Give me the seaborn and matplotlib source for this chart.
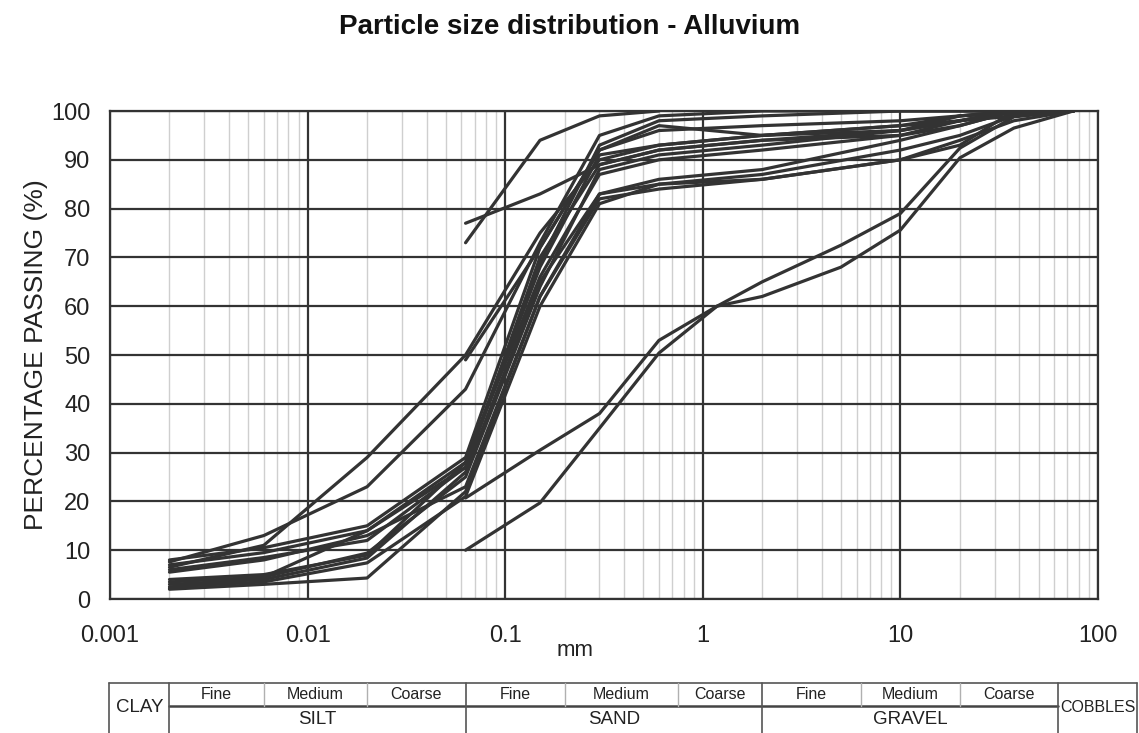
import numpy as np
import pandas as pd
import matplotlib
matplotlib.use("Agg")
import matplotlib.pyplot as plt
import matplotlib.transforms as mtransforms
from matplotlib.ticker import LogLocator, NullFormatter
import seaborn as sns

# ---------------- data ----------------
sieve_full = [0.002, 0.006, 0.02, 0.063, 0.15, 0.3, 0.6, 2, 10, 20, 37.5, 75]
s01 = [2.0, 3.0, 4.3, 22, 62, 82, 84, 86, 90, 93, 100, 100]
s02 = [2.5, 3.5, 7.4, 21, 60, 81, 85, 87, 92, 95, 99, 100]
s03 = [3.0, 4.0, 8.4, 26, 65, 83, 86, 88, 94, 97, 100, 100]
s04 = [3.5, 4.5, 9.4, 25, 64, 88, 91, 93, 96, 98, 100, 100]
s05 = [4.0, 5.0, 9.0, 28, 68, 91, 93, 95, 97, 99, 100, 100]
s06 = [2.2, 4.5, 14, 27, 70, 89, 92, 94, 95, 97, 100, 100]
s07 = [8.0, 10.5, 15, 29, 72, 92, 97, 95, 96, 99, 100, 100]
s08 = [7.0, 9.5, 14, 28, 66, 87, 90, 92, 95, 98, 100, 100]
s09 = [6.0, 8.5, 12, 27, 69, 93, 98, 99, 100, 100, 100, 100]
s10 = [7.6, 13, 23, 43, 73, 95, 99, 100, 100, 100, 100, 100]
s11 = [6.5, 11, 29, 50, 75, 90, 93, 95, 97, 98, 100, 100]
s12 = [5.5, 8.0, 13, 23, 62, 83, 85, 86, 90, 94, 98, 100]

sieve_s13 = [0.063, 0.15, 0.3, 0.6]
s13 = [73, 94, 99, 100]
sieve_s14 = [0.063, 0.15, 0.3, 0.6, 2, 10, 20, 75]
s14 = [77, 83, 89, 92, 94, 96, 98, 100]
sieve_s15 = [0.063, 0.15, 0.3, 0.6, 2, 10, 20, 75]
s15 = [49, 72, 92, 96, 97, 98, 99, 100]
sieve_coarse = [0.063, 0.15, 0.3, 0.6, 1.18, 2, 5, 10, 20, 37.5, 75]
s16 = [20.7, 30.5, 38, 53, 60, 65, 72.5, 79, 92.4, 98.8, 100]
s17 = [10, 19.7, 35, 50.4, 60, 62, 68, 75.6, 90.4, 96.5, 100]

x_ticks = [0.001, 0.01, 0.1, 1, 10, 100]
x_tick_labels = ["0.001", "0.01", "0.1", "1", "10", "100"]
y_ticks = list(range(0, 101, 10))

# classification table (BS 5930 style), boundaries as drawn in the picture
class_edges = [0.00099, 0.002, 0.006, 0.02, 0.063, 0.2, 0.75, 2, 6.3, 20, 63, 157]
sub_labels = ["Fine", "Medium", "Coarse"] * 3
main_labels = ["SILT", "SAND", "GRAVEL"]

samples = [
    (sieve_full, s01), (sieve_full, s02), (sieve_full, s03), (sieve_full, s04),
    (sieve_full, s05), (sieve_full, s06), (sieve_full, s07), (sieve_full, s08),
    (sieve_full, s09), (sieve_full, s10), (sieve_full, s11), (sieve_full, s12),
    (sieve_s13, s13), (sieve_s14, s14), (sieve_s15, s15),
    (sieve_coarse, s16), (sieve_coarse, s17),
]
rows = []
for i, (xs, ys) in enumerate(samples):
    for order, (xv, yv) in enumerate(zip(xs, ys)):
        rows.append({"sample": i, "order": order, "size": xv, "passing": yv})
df = pd.DataFrame(rows)

# ---------------- style ----------------
sns.set_theme(style="white")
plt.rcParams["font.family"] = ["Liberation Sans", "DejaVu Sans"]

W, H = 1139, 733
fig = plt.figure(figsize=(W / 100, H / 100), dpi=100)
ax = fig.add_axes([110 / W, 1 - 599 / H, 988 / W, 488 / H])
ax.set_xscale("log")

dark = "#333333"
sns.lineplot(data=df, x="size", y="passing", units="sample", estimator=None,
             sort=False, color=dark, linewidth=2.3, ax=ax, legend=False, zorder=3)

ax.set_xlim(0.001, 100)
ax.set_ylim(0, 100)
ax.set_xticks(x_ticks)
ax.set_xticklabels(x_tick_labels)
ax.set_yticks(y_ticks)
ax.xaxis.set_minor_locator(LogLocator(base=10, subs=np.arange(2, 10)))
ax.xaxis.set_minor_formatter(NullFormatter())
ax.grid(which="major", color=dark, linewidth=1.6)
ax.grid(which="minor", axis="x", color="#cfcfcf", linewidth=1.0)
ax.set_axisbelow(True)
for sp in ax.spines.values():
    sp.set_color(dark)
    sp.set_linewidth(1.6)
ax.tick_params(axis="x", which="major", direction="out", length=7, width=1.3,
               color=dark, labelsize=17, pad=12, labelcolor="#222222")
ax.tick_params(axis="x", which="minor", length=0)
ax.tick_params(axis="y", length=0, labelsize=17, pad=14, labelcolor="#222222")

ax.set_xlabel("mm", fontsize=16, color="#222222")
ax.xaxis.set_label_coords((575 - 110) / 988, (599 - 640) / 488)
ax.set_ylabel("PERCENTAGE PASSING (%)", fontsize=19, color="#222222")
ax.yaxis.set_label_coords((48 - 110) / 988, 0.5)

fig.text(0.5, 1 - 34 / H, "Particle size distribution - Alluvium", ha="center",
         va="baseline", fontsize=20, fontweight="bold", color="#111111")

# ---------------- classification table below the axis ----------------
tr = mtransforms.blended_transform_factory(ax.transData, ax.transAxes)
y_top = (599 - 683) / 488
y_mid = (599 - 706) / 488
y_bot = (599 - 736) / 488
line_kw = dict(transform=tr, clip_on=False, color="#555555", linewidth=1.2)
left, right = class_edges[0], class_edges[-1]
ax.plot([left, right], [y_top, y_top], **line_kw)
ax.plot([class_edges[1], class_edges[-2]], [y_mid, y_mid], transform=tr,
        clip_on=False, color="#444444", linewidth=1.8)
for k, e in enumerate(class_edges):
    if k in (0, 1, 4, 7, 10, 11):
        ax.plot([e, e], [y_top, y_bot], **line_kw)
    else:
        ax.plot([e, e], [y_top, y_mid], transform=tr, clip_on=False,
                color="#b0b0b0", linewidth=1.0)

def gmid(a, b):
    return np.sqrt(a * b)

y_sub = (y_top + y_mid) / 2
y_main = (599 - 719) / 488
y_cent = (599 - 707) / 488
for k, lab in enumerate(sub_labels):
    ax.text(gmid(class_edges[k + 1], class_edges[k + 2]), y_sub, lab, transform=tr,
            ha="center", va="center", fontsize=11.5, color="#222222")
for k, lab in enumerate(main_labels):
    ax.text(gmid(class_edges[1 + 3 * k], class_edges[4 + 3 * k]), y_main, lab,
            transform=tr, ha="center", va="center", fontsize=13.5, color="#222222")
ax.text(gmid(class_edges[0], class_edges[1]), y_cent, "CLAY", transform=tr,
        ha="center", va="center", fontsize=13.5, color="#222222")
ax.text(gmid(class_edges[-2], class_edges[-1]), y_cent, "COBBLES", transform=tr,
        ha="center", va="center", fontsize=11.5, color="#222222")

fig.savefig("out.png", dpi=100, facecolor="white")
